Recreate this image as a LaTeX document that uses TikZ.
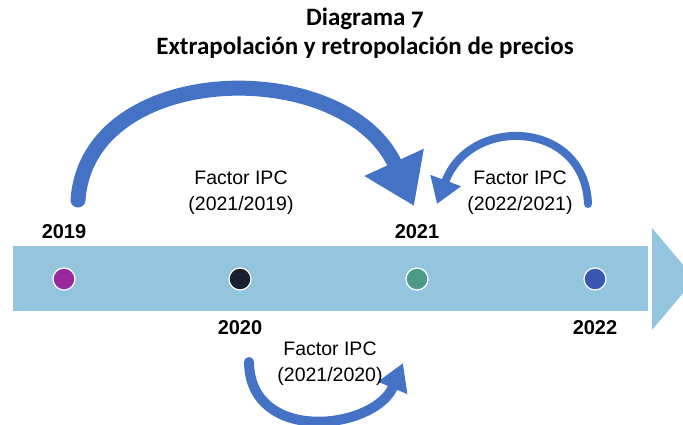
\documentclass[tikz,border=0pt]{standalone}
\usepackage{fontspec}
\setmainfont{Liberation Sans}
\newfontfamily\titlefont{Carlito}[Numbers=OldStyle]
\usetikzlibrary{arrows.meta,positioning}
\definecolor{bandblue}{HTML}{93C5DF}
\definecolor{arcblue}{HTML}{4472C4}
\definecolor{c2019}{HTML}{98289E}
\definecolor{c2020}{HTML}{17202C}
\definecolor{c2021}{HTML}{4E9A88}
\definecolor{c2022}{HTML}{3A56B0}

\begin{document}
\begin{tikzpicture}[x=1pt, y=-1pt,
        font=\fontsize{19.5}{26}\selectfont,
        dot/.style={circle, draw=white, line width=1.2pt, minimum size=22pt, inner sep=0pt},
        year/.style={font=\fontsize{20}{23}\selectfont\bfseries, inner sep=0pt},
        factor/.style={align=center, inner sep=0pt},
        arc/.style={arcblue, line cap=round}
    ]
        \useasboundingbox (0,0) rectangle (683,425);
        % title
        \node[font=\titlefont\bfseries\fontsize{25}{29}\selectfont, align=center] (title) at (365,33)
            {Diagrama 7\\Extrapolación y retropolación de precios};
        % time band
        \fill[bandblue] (13,246) rectangle (648,311);
        \fill[bandblue] (652,228) -- (695,279) -- (652,330) -- cycle;
        \node[dot, fill=c2019] (d2019) at (64,279) {};
        \node[dot, fill=c2020] (d2020) at (240,279) {};
        \node[dot, fill=c2021] (d2021) at (417,279) {};
        \node[dot, fill=c2022] (d2022) at (595,279) {};
        \node[year, above=29pt of d2019] (y2019) {2019};
        \node[year, above=29pt of d2021] (y2021) {2021};
        \node[year, below=30pt of d2020] (y2020) {2020};
        \node[year, below=30pt of d2022] (y2022) {2022};
        % factors
        \coordinate (s19) at (78,200);
        \coordinate (s22) at (588,204);
        \coordinate (s20) at (249,362);
        \coordinate (t21a) at (414,206);
        \coordinate (t21b) at (437,204);
        \coordinate (t21c) at (403,363);
        \draw[arc, line width=15pt, -{Triangle[length=48pt,width=62pt]}]
            (s19) .. controls (88,60) and (345,55) .. (t21a);
        \draw[arc, line width=8pt, -{Triangle[length=25pt,width=31pt]}]
            (s22) .. controls (585,120) and (470,115) .. (t21b);
        \draw[arc, line width=10pt, -{Triangle[length=27pt,width=30pt]}]
            (s20) .. controls (250,445) and (375,430) .. (t21c);
        \node[factor] (f1) at (241,193) {Factor IPC\\(2021/2019)};
        \node[factor] (f2) at (520,193) {Factor IPC\\(2022/2021)};
        \node[factor] (f3) at (330,364) {Factor IPC\\(2021/2020)};
    \end{tikzpicture}
\end{document}
